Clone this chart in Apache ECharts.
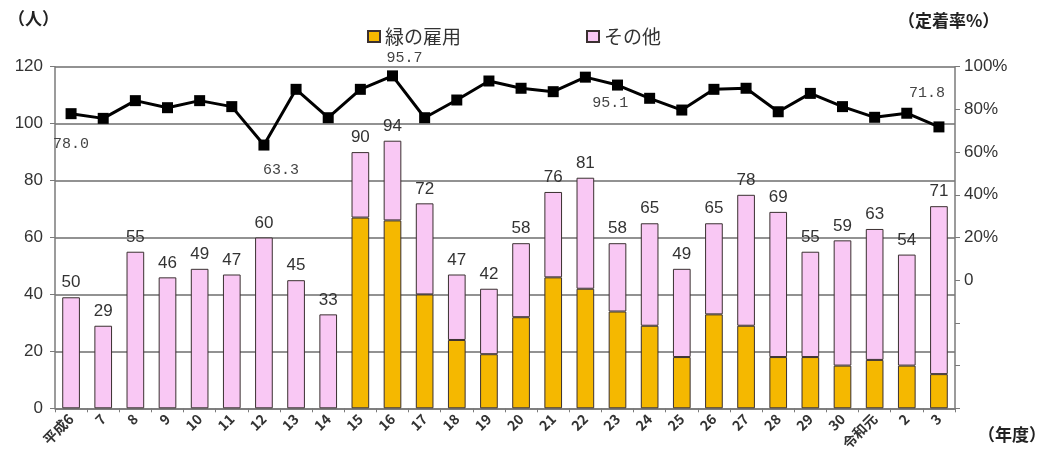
<!DOCTYPE html>
<html><head><meta charset="utf-8">
<script src="https://cdn.jsdelivr.net/npm/echarts@6/dist/echarts.min.js"></script>
<style>html,body{margin:0;padding:0;background:#fff}#c{width:1043px;height:461px}</style>
</head><body><div id="c"></div>
<script>
var categories = ['平成6','7','8','9','10','11','12','13','14','15','16','17','18','19','20','21','22','23','24','25','26','27','28','29','30','令和元','2','3'];
// bar heights as drawn (total), green part, and printed labels
var totalBars = [39,29,55,46,49,47,60,45,33,90,94,72,47,42,58,76,81,58,65,49,65,75,69,55,59,63,54,71];
var greenVals = [0,0,0,0,0,0,0,0,0,67,66,40,24,19,32,46,42,34,29,18,33,29,18,18,15,17,15,12];
var totalLabels = [50,29,55,46,49,47,60,45,33,90,94,72,47,42,58,76,81,58,65,49,65,78,69,55,59,63,54,71];
var rateVals = [78.0,75.8,84.1,80.8,84.1,81.3,63.3,89.4,76.1,89.4,95.7,76.1,84.4,93.3,89.9,88.3,95.1,91.4,85.2,79.7,89.4,89.9,78.9,87.5,81.3,76.3,78.2,71.8];
var leftTicks = [0,20,40,60,80,100,120];
var rightTicks = [-60,-40,-20,0,20,40,60,80,100];

var otherVals = totalBars.map(function(t,i){return t - greenVals[i];});
var greenData = greenVals.map(function(v){return v === 0 ? null : v;});
var labelOffsets = {0:[0,30],6:[17,25],10:[12,-18],16:[25,26],27:[-12,-34]};
var rateData = rateVals.map(function(v,i){
  if (labelOffsets[i]) {
    return {value:v, label:{show:true, position:'inside', offset:labelOffsets[i], formatter:function(p){return p.value.toFixed(1);},
      fontFamily:'Liberation Mono', fontSize:15, color:'#444'}};
  }
  return v;
});
var ax = '#7a7a7a';
var chart = echarts.init(document.getElementById('c'));
chart.setOption({
  animation:false,
  grid:{left:55, right:88, top:66.7, bottom:52.7},
  legend:{left:362, top:22, itemGap:125, itemWidth:12, itemHeight:11,
    textStyle:{fontFamily:'Noto Sans CJK JP', fontSize:19, color:'#333'},
    data:[{name:'緑の雇用', icon:'rect'},{name:'その他', icon:'rect'}]},
  graphic:[
    {type:'text', left:8, top:10, style:{text:'（人）', font:'bold 17px "Noto Sans CJK JP"', fill:'#222'}},
    {type:'text', left:898, top:12, style:{text:'（定着率%）', font:'bold 17px "Noto Sans CJK JP"', fill:'#222'}},
    {type:'text', left:978, top:426, style:{text:'（年度）', font:'bold 17px "Noto Sans CJK JP"', fill:'#222'}}
  ],
  xAxis:{type:'category', data:categories, boundaryGap:true,
    axisLine:{lineStyle:{color:ax, width:1.5}},
    axisTick:{show:true, length:4, lineStyle:{color:ax}},
    axisLabel:{rotate:45, fontSize:14, fontWeight:'bold', color:'#333', fontFamily:'Noto Sans CJK JP', margin:8, interval:0}},
  yAxis:[
    {type:'value', min:0, max:120, interval:20,
      axisLine:{show:true, lineStyle:{color:ax, width:1.5}},
      axisTick:{show:true, length:5, lineStyle:{color:ax}},
      axisLabel:{fontSize:17, color:'#333', fontFamily:'Liberation Sans', margin:12,
        formatter:function(v){return leftTicks.indexOf(v)>=0 ? String(v) : '';}},
      splitLine:{show:true, lineStyle:{color:'#6e6e6e', width:1.5}}},
    {type:'value', min:-60, max:100, interval:20, position:'right',
      axisLine:{show:true, lineStyle:{color:ax, width:1.5}},
      axisTick:{show:true, length:5, lineStyle:{color:ax}},
      axisLabel:{fontSize:17, color:'#333', fontFamily:'Liberation Sans', margin:9,
        formatter:function(v){ if (rightTicks.indexOf(v)<0 || v<0) return ''; return v===0 ? '0' : v+'%'; }},
      splitLine:{show:false}}
  ],
  series:[
    {name:'緑の雇用', type:'bar', stack:'a', data:greenData, barWidth:'55%',
      itemStyle:{color:'#f5b800', borderColor:'#3a3030', borderWidth:1}},
    {name:'その他', type:'bar', stack:'a', data:otherVals, barWidth:'55%',
      itemStyle:{color:'#f9c8f4', borderColor:'#3a3030', borderWidth:1},
      label:{show:true, position:'top', distance:6, fontSize:17, color:'#333', fontFamily:'Liberation Sans',
        formatter:function(p){return String(totalLabels[p.dataIndex]);}}},
    {name:'定着率', type:'line', yAxisIndex:1, data:rateData, symbol:'rect', symbolSize:11,
      lineStyle:{color:'#000', width:3}, itemStyle:{color:'#000'}, z:5}
  ]
});
</script></body></html>
